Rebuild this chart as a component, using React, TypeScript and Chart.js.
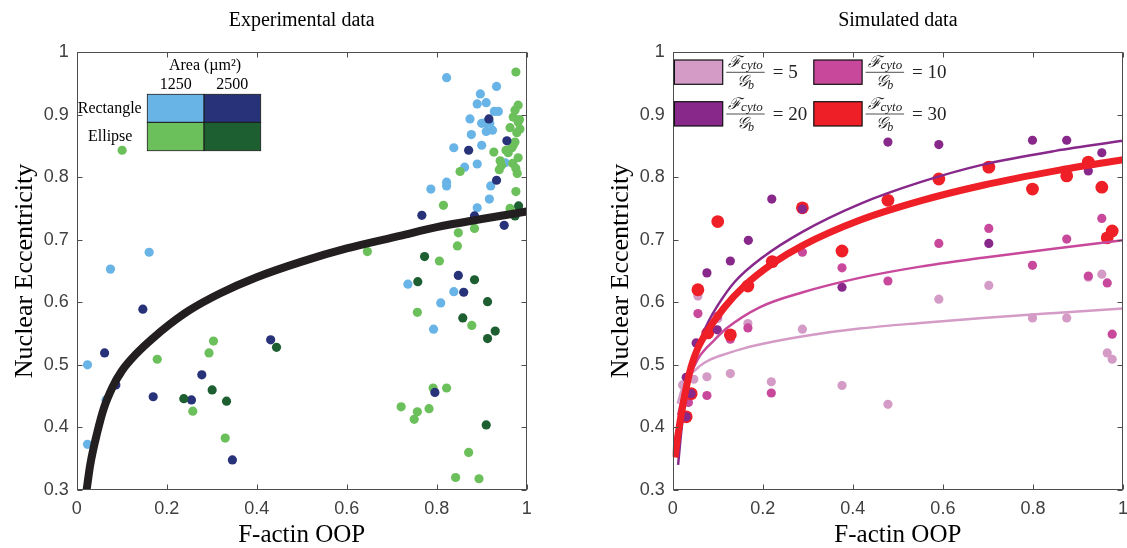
import React, { useEffect, useRef } from "react";
import { Chart, registerables } from "chart.js";

Chart.register(...registerables);

type Pt = [number, number];

// ---------- shared axis ticks ----------
const xTickValues = [0, 0.2, 0.4, 0.6, 0.8, 1];
const xTickLabels = ["0", "0.2", "0.4", "0.6", "0.8", "1"];
const yTickValues = [0.3, 0.4, 0.5, 0.6, 0.7, 0.8, 0.9, 1];
const yTickLabels = ["0.3", "0.4", "0.5", "0.6", "0.7", "0.8", "0.9", "1"];

// ---------- Experimental data (left) ----------
const rectangle1250: Pt[] = [
  [0.161, 0.68], [0.075, 0.653], [0.024, 0.5], [0.065, 0.444], [0.024, 0.373],
  [0.736, 0.629], [0.838, 0.617], [0.809, 0.599], [0.793, 0.557], [0.822, 0.959],
  [0.933, 0.945], [0.897, 0.933], [0.89, 0.917], [0.91, 0.919], [0.928, 0.905],
  [0.937, 0.905], [0.874, 0.893], [0.9, 0.886], [0.909, 0.887], [0.918, 0.886],
  [0.91, 0.873], [0.924, 0.875], [0.877, 0.868], [0.9, 0.851], [0.838, 0.847],
  [0.952, 0.823], [0.89, 0.821], [0.862, 0.816], [0.92, 0.786], [0.822, 0.792],
  [0.822, 0.786], [0.787, 0.781], [0.917, 0.765], [0.89, 0.751],
];
const rectangle2500: Pt[] = [
  [0.147, 0.589], [0.062, 0.519], [0.087, 0.468], [0.17, 0.449], [0.278, 0.484],
  [0.255, 0.444], [0.346, 0.348], [0.431, 0.54], [0.916, 0.893], [0.956, 0.858],
  [0.871, 0.843], [0.933, 0.795], [0.767, 0.739], [0.884, 0.738], [0.95, 0.723],
  [0.848, 0.643], [0.86, 0.616], [0.796, 0.456],
];
const ellipse1250: Pt[] = [
  [0.101, 0.843], [0.179, 0.509], [0.304, 0.538], [0.294, 0.519], [0.258, 0.426],
  [0.33, 0.383], [0.646, 0.681], [0.976, 0.968], [0.981, 0.915], [0.974, 0.907],
  [0.97, 0.896], [0.984, 0.892], [0.981, 0.888], [0.963, 0.879], [0.985, 0.877],
  [0.978, 0.871], [0.974, 0.856], [0.97, 0.851], [0.967, 0.847], [0.927, 0.84],
  [0.954, 0.843], [0.959, 0.839], [0.981, 0.831], [0.941, 0.826], [0.944, 0.819],
  [0.939, 0.812], [0.969, 0.822], [0.976, 0.814], [0.979, 0.806], [0.852, 0.809],
  [0.976, 0.777], [0.815, 0.755], [0.963, 0.75], [0.884, 0.718], [0.848, 0.711],
  [0.846, 0.69], [0.806, 0.666], [0.757, 0.584], [0.878, 0.563], [0.792, 0.463],
  [0.822, 0.463], [0.721, 0.433], [0.757, 0.425], [0.783, 0.43], [0.75, 0.413],
  [0.871, 0.36], [0.842, 0.32], [0.894, 0.318],
];
const ellipse2500: Pt[] = [
  [0.301, 0.46], [0.238, 0.446], [0.333, 0.442], [0.444, 0.528], [0.982, 0.754],
  [0.974, 0.738], [0.773, 0.673], [0.758, 0.633], [0.884, 0.636], [0.913, 0.601],
  [0.858, 0.575], [0.93, 0.554], [0.913, 0.542], [0.91, 0.404],
];
const expFitX = [0.022, 0.03, 0.045, 0.06, 0.08, 0.1, 0.133, 0.17, 0.207, 0.25, 0.318, 0.4, 0.5, 0.6, 0.718, 0.8, 0.9, 1.0];
const expFitY = [0.3, 0.34, 0.39, 0.43, 0.465, 0.49, 0.518, 0.543, 0.565, 0.587, 0.614, 0.64, 0.665, 0.686, 0.706, 0.72, 0.733, 0.745];

const areaLabels = ["1250", "2500"];
const shapeLabels = ["Rectangle", "Ellipse"];

// ---------- Simulated data (right) ----------
const sim5Points: Pt[] = [
  [0.022, 0.468], [0.047, 0.477], [0.056, 0.61], [0.076, 0.481], [0.1, 0.574],
  [0.128, 0.486], [0.167, 0.566], [0.219, 0.473], [0.288, 0.557], [0.376, 0.467],
  [0.478, 0.437], [0.591, 0.605], [0.702, 0.627], [0.799, 0.575], [0.875, 0.575],
  [0.923, 0.64], [0.953, 0.645], [0.965, 0.519], [0.976, 0.509],
];
const sim10Points: Pt[] = [
  [0.035, 0.44], [0.056, 0.582], [0.076, 0.451], [0.1, 0.578], [0.128, 0.541],
  [0.167, 0.559], [0.219, 0.455], [0.288, 0.68], [0.376, 0.655], [0.478, 0.634],
  [0.591, 0.694], [0.702, 0.718], [0.799, 0.659], [0.875, 0.701], [0.923, 0.642],
  [0.953, 0.734], [0.965, 0.631], [0.976, 0.549],
];
const sim20Points: Pt[] = [
  [0.03, 0.417], [0.041, 0.454], [0.03, 0.48], [0.052, 0.535], [0.076, 0.647],
  [0.099, 0.556], [0.128, 0.666], [0.168, 0.699], [0.22, 0.765], [0.288, 0.749],
  [0.376, 0.624], [0.478, 0.856], [0.591, 0.852], [0.702, 0.694], [0.799, 0.859],
  [0.875, 0.859], [0.923, 0.81], [0.953, 0.839],
];
const sim30Points: Pt[] = [
  [0.03, 0.417], [0.041, 0.454], [0.056, 0.62], [0.078, 0.551], [0.1, 0.729],
  [0.128, 0.548], [0.167, 0.626], [0.221, 0.665], [0.288, 0.751], [0.376, 0.682],
  [0.478, 0.763], [0.591, 0.797], [0.702, 0.816], [0.799, 0.781], [0.875, 0.802],
  [0.923, 0.824], [0.953, 0.784], [0.965, 0.703], [0.976, 0.714],
];
const sim5LineX = [0.011, 0.02, 0.036, 0.06, 0.082, 0.12, 0.156, 0.23, 0.3, 0.415, 0.55, 0.689, 0.85, 1.0];
const sim5LineY = [0.438, 0.46, 0.481, 0.498, 0.508, 0.518, 0.526, 0.538, 0.547, 0.558, 0.567, 0.575, 0.583, 0.59];
const sim10LineX = [0.012, 0.025, 0.044, 0.059, 0.093, 0.119, 0.193, 0.289, 0.415, 0.55, 0.689, 0.85, 1.0];
const sim10LineY = [0.42, 0.46, 0.492, 0.513, 0.54, 0.558, 0.592, 0.616, 0.639, 0.657, 0.671, 0.686, 0.699];
const sim20LineX = [0.012, 0.02, 0.03, 0.045, 0.06, 0.08, 0.1, 0.137, 0.2, 0.289, 0.415, 0.55, 0.689, 0.85, 1.0];
const sim20LineY = [0.34, 0.4, 0.45, 0.5, 0.537, 0.57, 0.595, 0.632, 0.672, 0.713, 0.757, 0.792, 0.82, 0.842, 0.858];
const sim30LineX = [0.005, 0.011, 0.026, 0.041, 0.056, 0.078, 0.115, 0.159, 0.222, 0.289, 0.415, 0.55, 0.689, 0.85, 1.0];
const sim30LineY = [0.352, 0.385, 0.449, 0.497, 0.527, 0.555, 0.592, 0.626, 0.662, 0.691, 0.731, 0.762, 0.787, 0.81, 0.828];
const ratioValues = ["5", "10", "20", "30"];

// ---------- styles ----------
const C_RECT1 = "#69b4e6";
const C_RECT2 = "#283279";
const C_ELL1 = "#6cc05b";
const C_ELL2 = "#1e5f32";
const C_FIT = "#231f20";
const C_S5 = "#d49bc6";
const C_S10 = "#c8499b";
const C_S20 = "#87288a";
const C_S30 = "#ee1f26";
const SERIF = "'Liberation Serif', 'Times New Roman', serif";
const SANS = "'Liberation Sans', Arial, sans-serif";
const MATH = "'DejaVu Serif', serif";

const toXY = (pts: Pt[]) => pts.map(([x, y]) => ({ x, y }));
const zipXY = (xs: number[], ys: number[]) => xs.map((x, i) => ({ x, y: ys[i] }));

const framePlugin = {
  id: "frame",
  afterDatasetsDraw(chart: any) {
    const { ctx, chartArea: a, scales } = chart;
    ctx.save();
    ctx.strokeStyle = "#4d4d4d";
    ctx.lineWidth = 1;
    const L = Math.round(a.left) + 0.5;
    const R = Math.round(a.right) - 0.5;
    const T = Math.round(a.top) + 0.5;
    const B = Math.round(a.bottom) - 0.5;
    ctx.strokeRect(L, T, R - L, B - T);
    const tl = 5;
    ctx.beginPath();
    for (const v of xTickValues) {
      const px = Math.round(scales.x.getPixelForValue(v)) + 0.5;
      ctx.moveTo(px, B); ctx.lineTo(px, B - tl);
      ctx.moveTo(px, T); ctx.lineTo(px, T + tl);
    }
    for (const v of yTickValues) {
      const py = Math.round(scales.y.getPixelForValue(v)) + 0.5;
      ctx.moveTo(L, py); ctx.lineTo(L + tl, py);
      ctx.moveTo(R, py); ctx.lineTo(R - tl, py);
    }
    ctx.stroke();
    ctx.restore();
  },
};

const plotTitlePlugin = {
  id: "plotTitle",
  afterDraw(chart: any, _args: any, opts: any) {
    const { ctx, chartArea: a } = chart;
    ctx.save();
    ctx.fillStyle = "#000";
    ctx.font = `20px ${SERIF}`;
    ctx.textAlign = "center";
    ctx.textBaseline = "middle";
    ctx.fillText(opts.text, (a.left + a.right) / 2, 21);
    ctx.restore();
  },
};

const areaLegendPlugin = {
  id: "areaLegend",
  afterDraw(chart: any) {
    const { ctx, chartArea: a } = chart;
    const L = a.left, T = a.top;
    const xs = [L + 70.6, L + 127.3, L + 184];
    const ys = [T + 42.3, T + 70.3, T + 98.7];
    const cols = [[C_RECT1, C_RECT2], [C_ELL1, C_ELL2]];
    ctx.save();
    for (let r = 0; r < 2; r++) {
      for (let c = 0; c < 2; c++) {
        ctx.fillStyle = cols[r][c];
        ctx.fillRect(xs[c], ys[r], xs[c + 1] - xs[c], ys[r + 1] - ys[r]);
      }
    }
    ctx.strokeStyle = "#1a1a1a";
    ctx.lineWidth = 0.8;
    for (let r = 0; r < 2; r++) {
      for (let c = 0; c < 2; c++) {
        ctx.strokeRect(xs[c], ys[r], xs[c + 1] - xs[c], ys[r + 1] - ys[r]);
      }
    }
    ctx.fillStyle = "#000";
    ctx.font = `16px ${SERIF}`;
    ctx.textAlign = "center";
    ctx.textBaseline = "middle";
    ctx.fillText("Area (µm²)", L + 128.3, T + 14);
    ctx.fillText(areaLabels[0], (xs[0] + xs[1]) / 2, T + 33);
    ctx.fillText(areaLabels[1], (xs[1] + xs[2]) / 2, T + 33);
    ctx.fillText(shapeLabels[0], L + 33, (ys[0] + ys[1]) / 2);
    ctx.fillText(shapeLabels[1], L + 33.5, (ys[1] + ys[2]) / 2);
    ctx.restore();
  },
};

const ratioLegendPlugin = {
  id: "ratioLegend",
  afterDraw(chart: any) {
    const { ctx, chartArea: a } = chart;
    const colors = [C_S5, C_S10, C_S20, C_S30];
    ctx.save();
    ratioValues.forEach((val, i) => {
      const col = i % 2, row = Math.floor(i / 2);
      const bx = a.left + 1.7 + col * 139.4;
      const by = a.top + 8 + row * 41.7;
      const bw = 48.3, bh = 24.3;
      ctx.fillStyle = colors[i];
      ctx.fillRect(bx, by, bw, bh);
      ctx.strokeStyle = "#111";
      ctx.lineWidth = 1.2;
      ctx.strokeRect(bx, by, bw, bh);
      const br = bx + bw;
      const barY = a.top + 20.3 + row * 41.7;
      const fx0 = br + 3.5, fx1 = br + 42;
      const fc = (fx0 + fx1) / 2;
      ctx.strokeStyle = "#222";
      ctx.lineWidth = 0.8;
      ctx.beginPath();
      ctx.moveTo(fx0, barY); ctx.lineTo(fx1, barY); ctx.stroke();
      ctx.fillStyle = "#222";
      ctx.textBaseline = "alphabetic";
      ctx.textAlign = "left";
      // numerator
      ctx.font = `italic 16px ${MATH}`;
      const wF = ctx.measureText("ℱ").width;
      ctx.font = `italic 13px ${SERIF}`;
      const wC = ctx.measureText("cyto").width;
      const nx = fc - (wF + wC) / 2;
      ctx.font = `italic 16px ${MATH}`;
      ctx.fillText("ℱ", nx, barY - 5);
      ctx.font = `italic 13px ${SERIF}`;
      ctx.fillText("cyto", nx + wF, barY - 3.5);
      // denominator
      ctx.font = `italic 16px ${MATH}`;
      const wG = ctx.measureText("𝒢").width;
      ctx.font = `italic 12px ${SERIF}`;
      const wB = ctx.measureText("b").width;
      const dx = fc - (wG + wB) / 2;
      ctx.font = `italic 16px ${MATH}`;
      ctx.fillText("𝒢", dx, barY + 14);
      ctx.font = `italic 12px ${SERIF}`;
      ctx.fillText("b", dx + wG, barY + 16.5);
      // = value
      ctx.font = `19px ${SERIF}`;
      ctx.textBaseline = "middle";
      ctx.fillText("= " + val, br + 50, barY + 1);
    });
    ctx.restore();
  },
};

function axisScales(xTitle: string, yTitle: string) {
  const tickFont = { family: SANS, size: 18 };
  return {
    x: {
      type: "linear",
      min: 0,
      max: 1,
      afterBuildTicks: (s: any) => { s.ticks = xTickValues.map((v) => ({ value: v })); },
      ticks: {
        font: tickFont,
        color: "#404040",
        padding: 8,
        maxRotation: 0,
        callback: (v: number) => { const i = xTickValues.findIndex((t) => Math.abs(t - v) < 1e-9); return i >= 0 ? xTickLabels[i] : ""; },
      },
      grid: { display: false, drawTicks: false },
      border: { display: false },
      title: { display: true, text: xTitle, color: "#000", font: { family: SERIF, size: 25, lineHeight: 1 }, padding: { top: 0, bottom: 0.5 } },
      afterFit: (s: any) => { s.height = 58; },
    },
    y: {
      type: "linear",
      min: 0.3,
      max: 1,
      afterBuildTicks: (s: any) => { s.ticks = yTickValues.map((v) => ({ value: v })); },
      ticks: {
        font: tickFont,
        color: "#404040",
        padding: 8,
        callback: (v: number) => { const i = yTickValues.findIndex((t) => Math.abs(t - v) < 1e-9); return i >= 0 ? yTickLabels[i] : ""; },
      },
      grid: { display: false, drawTicks: false },
      border: { display: false },
      title: { display: true, text: yTitle, color: "#000", font: { family: SERIF, size: 26, lineHeight: 1 }, padding: { top: 12, bottom: 0 } },
      afterFit: (s: any) => { s.width = 76.7; },
    },
  };
}

function leftConfig(): any {
  const pts = (data: Pt[], color: string, order: number) => ({
    data: toXY(data),
    backgroundColor: color,
    borderColor: color,
    borderWidth: 0,
    pointRadius: 4.6,
    pointHoverRadius: 4.6,
    showLine: false,
    order,
  });
  return {
    type: "scatter",
    data: {
      datasets: [
        {
          data: zipXY(expFitX, expFitY),
          showLine: true,
          borderColor: C_FIT,
          borderWidth: 8,
          pointRadius: 0,
          cubicInterpolationMode: "monotone",
          order: 0,
        },
        pts(ellipse2500, C_ELL2, 1),
        pts(rectangle2500, C_RECT2, 2),
        pts(ellipse1250, C_ELL1, 3),
        pts(rectangle1250, C_RECT1, 4),
      ],
    },
    options: {
      responsive: false,
      animation: false,
      devicePixelRatio: 1,
      layout: { padding: { top: 52, left: 0, right: 73.3, bottom: 0 } },
      plugins: { legend: { display: false }, tooltip: { enabled: false }, plotTitle: { text: "Experimental data" } },
      events: [],
      scales: axisScales("F-actin OOP", "Nuclear Eccentricity"),
    },
    plugins: [framePlugin, areaLegendPlugin, plotTitlePlugin],
  };
}

function rightConfig(): any {
  const pts = (data: Pt[], color: string, r: number, order: number) => ({
    data: toXY(data),
    backgroundColor: color,
    borderColor: color,
    borderWidth: 0,
    pointRadius: r,
    pointHoverRadius: r,
    showLine: false,
    order,
  });
  const line = (xs: number[], ys: number[], color: string, w: number, order: number) => ({
    data: zipXY(xs, ys),
    showLine: true,
    borderColor: color,
    borderWidth: w,
    pointRadius: 0,
    cubicInterpolationMode: "monotone",
    order,
  });
  return {
    type: "scatter",
    data: {
      datasets: [
        line(sim30LineX, sim30LineY, C_S30, 7, 0),
        line(sim20LineX, sim20LineY, C_S20, 2.5, 1),
        line(sim10LineX, sim10LineY, C_S10, 2.5, 2),
        line(sim5LineX, sim5LineY, C_S5, 2.5, 3),
        pts(sim20Points, C_S20, 4.6, 4),
        pts(sim30Points, C_S30, 6.4, 5),
        pts(sim10Points, C_S10, 4.6, 6),
        pts(sim5Points, C_S5, 4.6, 7),
      ],
    },
    options: {
      responsive: false,
      animation: false,
      devicePixelRatio: 1,
      layout: { padding: { top: 52, left: 0, right: 12.7, bottom: 0 } },
      plugins: { legend: { display: false }, tooltip: { enabled: false }, plotTitle: { text: "Simulated data" } },
      events: [],
      scales: axisScales("F-actin OOP", "Nuclear Eccentricity"),
    },
    plugins: [framePlugin, ratioLegendPlugin, plotTitlePlugin],
  };
}

function ChartCanvas({ make, left, width }: { make: () => any; left: number; width: number }) {
  const ref = useRef<HTMLCanvasElement>(null);
  useEffect(() => {
    const chart = new Chart(ref.current as HTMLCanvasElement, make());
    return () => chart.destroy();
  }, []);
  return (
    <canvas
      ref={ref}
      width={width}
      height={548}
      style={{ position: "absolute", left, top: 0, width, height: 548 }}
    />
  );
}

export default function App() {
  return (
    <div
      style={{
        position: "absolute",
        left: 0,
        top: 0,
        width: 1127,
        height: 548,
        overflow: "hidden",
        background: "#fff",
      }}
    >
      <ChartCanvas make={leftConfig} left={0} width={600} />
      <ChartCanvas make={rightConfig} left={596} width={540} />
    </div>
  );
}
